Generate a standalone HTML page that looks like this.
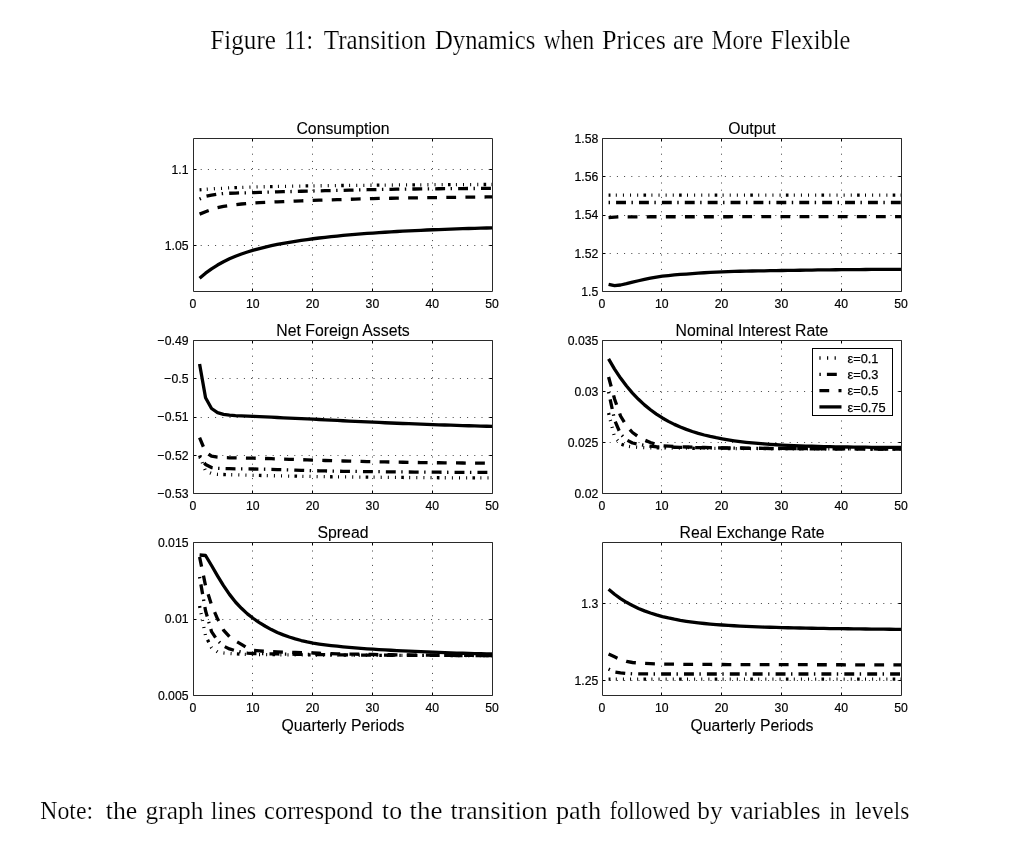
<!DOCTYPE html>
<html><head><meta charset="utf-8"><style>html,body{margin:0;padding:0;background:#fff;width:1021px;height:849px;overflow:hidden}svg{display:block;will-change:transform}</style></head><body>
<svg width="1021" height="849" viewBox="0 0 1021 849">
<rect width="1021" height="849" fill="#fff"/>
<g font-family="Liberation Serif, serif" fill="#000" stroke="#fff" stroke-width="0.2" font-size="26.3"><text x="210.30" y="48.8" textLength="65.67" lengthAdjust="spacingAndGlyphs">Figure</text><text x="284.00" y="48.8" textLength="29.03" lengthAdjust="spacingAndGlyphs">11:</text><text x="323.80" y="48.8" textLength="102.38" lengthAdjust="spacingAndGlyphs">Transition</text><text x="435.00" y="48.8" textLength="100.34" lengthAdjust="spacingAndGlyphs">Dynamics</text><text x="543.70" y="48.8" textLength="50.57" lengthAdjust="spacingAndGlyphs">when</text><text x="601.90" y="48.8" textLength="63.97" lengthAdjust="spacingAndGlyphs">Prices</text><text x="673.00" y="48.8" textLength="30.80" lengthAdjust="spacingAndGlyphs">are</text><text x="711.40" y="48.8" textLength="51.37" lengthAdjust="spacingAndGlyphs">More</text><text x="770.40" y="48.8" textLength="79.99" lengthAdjust="spacingAndGlyphs">Flexible</text></g><g font-family="Liberation Serif, serif" fill="#000" stroke="#fff" stroke-width="0.2" font-size="25.5"><text x="40.30" y="819.4" textLength="52.86" lengthAdjust="spacingAndGlyphs">Note:</text><text x="105.80" y="819.4" textLength="31.45" lengthAdjust="spacingAndGlyphs">the</text><text x="145.50" y="819.4" textLength="57.86" lengthAdjust="spacingAndGlyphs">graph</text><text x="210.70" y="819.4" textLength="45.56" lengthAdjust="spacingAndGlyphs">lines</text><text x="264.00" y="819.4" textLength="109.00" lengthAdjust="spacingAndGlyphs">correspond</text><text x="382.00" y="819.4" textLength="20.03" lengthAdjust="spacingAndGlyphs">to</text><text x="409.50" y="819.4" textLength="32.95" lengthAdjust="spacingAndGlyphs">the</text><text x="450.50" y="819.4" textLength="97.02" lengthAdjust="spacingAndGlyphs">transition</text><text x="555.90" y="819.4" textLength="45.30" lengthAdjust="spacingAndGlyphs">path</text><text x="609.50" y="819.4" textLength="80.54" lengthAdjust="spacingAndGlyphs">followed</text><text x="697.20" y="819.4" textLength="25.40" lengthAdjust="spacingAndGlyphs">by</text><text x="729.90" y="819.4" textLength="90.64" lengthAdjust="spacingAndGlyphs">variables</text><text x="829.50" y="819.4" textLength="16.33" lengthAdjust="spacingAndGlyphs">in</text><text x="854.90" y="819.4" textLength="54.38" lengthAdjust="spacingAndGlyphs">levels</text></g>
<g font-family="Liberation Sans, sans-serif" font-size="13.6" fill="#000" stroke-linejoin="round"><line x1="252.50" y1="291.5" x2="252.50" y2="138.5" stroke="#000" stroke-width="1" stroke-dasharray="1 6.2" opacity="0.75"/><line x1="312.50" y1="291.5" x2="312.50" y2="138.5" stroke="#000" stroke-width="1" stroke-dasharray="1 6.2" opacity="0.75"/><line x1="372.50" y1="291.5" x2="372.50" y2="138.5" stroke="#000" stroke-width="1" stroke-dasharray="1 6.2" opacity="0.75"/><line x1="432.50" y1="291.5" x2="432.50" y2="138.5" stroke="#000" stroke-width="1" stroke-dasharray="1 6.2" opacity="0.75"/><line x1="193.5" y1="245.50" x2="492.5" y2="245.50" stroke="#000" stroke-width="1" stroke-dasharray="1 6.2" opacity="0.75"/><line x1="193.5" y1="169.50" x2="492.5" y2="169.50" stroke="#000" stroke-width="1" stroke-dasharray="1 6.2" opacity="0.75"/><path d="M252.50 291.5v-3M252.50 138.5v3" stroke="#000" stroke-width="1"/><path d="M312.50 291.5v-3M312.50 138.5v3" stroke="#000" stroke-width="1"/><path d="M372.50 291.5v-3M372.50 138.5v3" stroke="#000" stroke-width="1"/><path d="M432.50 291.5v-3M432.50 138.5v3" stroke="#000" stroke-width="1"/><path d="M193.5 245.50h3M492.5 245.50h-3" stroke="#000" stroke-width="1"/><path d="M193.5 169.50h3M492.5 169.50h-3" stroke="#000" stroke-width="1"/><path d="M199.58 278.22 L205.56 273.16 L211.54 268.80 L217.52 265.02 L223.50 261.72 L229.48 258.83 L235.46 256.28 L241.44 254.01 L247.42 251.99 L253.40 250.18 L259.38 248.54 L265.36 247.05 L271.34 245.70 L277.32 244.46 L283.30 243.32 L289.28 242.26 L295.26 241.29 L301.24 240.38 L307.22 239.53 L313.20 238.75 L319.18 238.01 L325.16 237.31 L331.14 236.66 L337.12 236.05 L343.10 235.47 L349.08 234.93 L355.06 234.42 L361.04 233.93 L367.02 233.47 L373.00 233.04 L378.98 232.63 L384.96 232.24 L390.94 231.87 L396.92 231.52 L402.90 231.19 L408.88 230.87 L414.86 230.58 L420.84 230.29 L426.82 230.02 L432.80 229.77 L438.78 229.53 L444.76 229.30 L450.74 229.08 L456.72 228.87 L462.70 228.68 L468.68 228.49 L474.66 228.31 L480.64 228.15 L486.62 227.99 L492.60 227.83" fill="none" stroke="#000" stroke-width="3.3" stroke-linejoin="round" /><path d="M199.58 214.10 L205.56 211.69 L211.54 209.52 L217.52 207.71 L223.50 206.40 L229.48 205.46 L235.46 204.66 L241.44 203.99 L247.42 203.44 L253.40 203.00 L259.38 202.64 L265.36 202.35 L271.34 202.09 L277.32 201.85 L283.30 201.60 L289.28 201.34 L295.26 201.09 L301.24 200.85 L307.22 200.62 L313.20 200.40 L319.18 200.20 L325.16 200.02 L331.14 199.85 L337.12 199.68 L343.10 199.50 L349.08 199.31 L355.06 199.12 L361.04 198.93 L367.02 198.75 L373.00 198.60 L378.98 198.47 L384.96 198.35 L390.94 198.24 L396.92 198.14 L402.90 198.04 L408.88 197.94 L414.86 197.85 L420.84 197.77 L426.82 197.68 L432.80 197.60 L438.78 197.52 L444.76 197.44 L450.74 197.36 L456.72 197.29 L462.70 197.22 L468.68 197.15 L474.66 197.08 L480.64 197.02 L486.62 196.96 L492.60 196.90" fill="none" stroke="#000" stroke-width="3.3" stroke-linejoin="round" stroke-dasharray="9.8 9.3"/><path d="M199.58 199.00 L205.56 196.40 L211.54 195.04 L217.52 194.06 L223.50 193.50 L229.48 193.23 L235.46 193.04 L241.44 192.89 L247.42 192.76 L253.40 192.60 L259.38 192.42 L265.36 192.23 L271.34 192.04 L277.32 191.87 L283.30 191.70 L289.28 191.55 L295.26 191.41 L301.24 191.27 L307.22 191.14 L313.20 191.00 L319.18 190.86 L325.16 190.72 L331.14 190.58 L337.12 190.44 L343.10 190.30 L349.08 190.15 L355.06 190.00 L361.04 189.85 L367.02 189.72 L373.00 189.60 L378.98 189.50 L384.96 189.40 L390.94 189.31 L396.92 189.22 L402.90 189.14 L408.88 189.06 L414.86 188.99 L420.84 188.92 L426.82 188.86 L432.80 188.80 L438.78 188.75 L444.76 188.70 L450.74 188.65 L456.72 188.60 L462.70 188.56 L468.68 188.52 L474.66 188.48 L480.64 188.45 L486.62 188.42 L492.60 188.40" fill="none" stroke="#000" stroke-width="3.3" stroke-linejoin="round" stroke-dasharray="1.4 6.1 9.9 5.5"/><path d="M199.58 189.80 L205.56 189.34 L211.54 188.92 L217.52 188.53 L223.50 188.20 L229.48 187.91 L235.46 187.63 L241.44 187.39 L247.42 187.17 L253.40 187.00 L259.38 186.85 L265.36 186.71 L271.34 186.58 L277.32 186.46 L283.30 186.34 L289.28 186.23 L295.26 186.13 L301.24 186.03 L307.22 185.94 L313.20 185.85 L319.18 185.77 L325.16 185.70 L331.14 185.63 L337.12 185.56 L343.10 185.50 L349.08 185.44 L355.06 185.38 L361.04 185.32 L367.02 185.27 L373.00 185.21 L378.98 185.15 L384.96 185.10 L390.94 185.04 L396.92 184.99 L402.90 184.94 L408.88 184.89 L414.86 184.85 L420.84 184.80 L426.82 184.76 L432.80 184.72 L438.78 184.68 L444.76 184.65 L450.74 184.62 L456.72 184.59 L462.70 184.56 L468.68 184.54 L474.66 184.53 L480.64 184.51 L486.62 184.50 L492.60 184.50" fill="none" stroke="#000" stroke-width="3.3" stroke-linejoin="round" stroke-dasharray="2.6 5.32 1 6.12 1 6.12 1 6.12 1 5.32" stroke-dashoffset="0.7"/><rect x="193.5" y="138.5" width="299.0" height="153.0" fill="none" stroke="#2a2a2a" stroke-width="1"/><text transform="translate(193.00,307.70) scale(0.9,1)" text-anchor="middle" stroke="#000" stroke-width="0.2">0</text><text transform="translate(252.80,307.70) scale(0.9,1)" text-anchor="middle" stroke="#000" stroke-width="0.2">10</text><text transform="translate(312.60,307.70) scale(0.9,1)" text-anchor="middle" stroke="#000" stroke-width="0.2">20</text><text transform="translate(372.40,307.70) scale(0.9,1)" text-anchor="middle" stroke="#000" stroke-width="0.2">30</text><text transform="translate(432.20,307.70) scale(0.9,1)" text-anchor="middle" stroke="#000" stroke-width="0.2">40</text><text transform="translate(492.00,307.70) scale(0.9,1)" text-anchor="middle" stroke="#000" stroke-width="0.2">50</text><text transform="translate(188.50,250.00) scale(0.9,1)" text-anchor="end" stroke="#000" stroke-width="0.2">1.05</text><text transform="translate(188.50,173.50) scale(0.9,1)" text-anchor="end" stroke="#000" stroke-width="0.2">1.1</text><text x="343.00" y="133.50" text-anchor="middle" font-size="15.8" stroke="#000" stroke-width="0.1">Consumption</text></g>
<g font-family="Liberation Sans, sans-serif" font-size="13.6" fill="#000" stroke-linejoin="round"><line x1="661.50" y1="291.5" x2="661.50" y2="138.5" stroke="#000" stroke-width="1" stroke-dasharray="1 6.2" opacity="0.75"/><line x1="721.50" y1="291.5" x2="721.50" y2="138.5" stroke="#000" stroke-width="1" stroke-dasharray="1 6.2" opacity="0.75"/><line x1="781.50" y1="291.5" x2="781.50" y2="138.5" stroke="#000" stroke-width="1" stroke-dasharray="1 6.2" opacity="0.75"/><line x1="841.50" y1="291.5" x2="841.50" y2="138.5" stroke="#000" stroke-width="1" stroke-dasharray="1 6.2" opacity="0.75"/><line x1="602.5" y1="253.50" x2="901.5" y2="253.50" stroke="#000" stroke-width="1" stroke-dasharray="1 6.2" opacity="0.75"/><line x1="602.5" y1="215.50" x2="901.5" y2="215.50" stroke="#000" stroke-width="1" stroke-dasharray="1 6.2" opacity="0.75"/><line x1="602.5" y1="176.50" x2="901.5" y2="176.50" stroke="#000" stroke-width="1" stroke-dasharray="1 6.2" opacity="0.75"/><path d="M661.50 291.5v-3M661.50 138.5v3" stroke="#000" stroke-width="1"/><path d="M721.50 291.5v-3M721.50 138.5v3" stroke="#000" stroke-width="1"/><path d="M781.50 291.5v-3M781.50 138.5v3" stroke="#000" stroke-width="1"/><path d="M841.50 291.5v-3M841.50 138.5v3" stroke="#000" stroke-width="1"/><path d="M602.5 291.50h3M901.5 291.50h-3" stroke="#000" stroke-width="1"/><path d="M602.5 253.50h3M901.5 253.50h-3" stroke="#000" stroke-width="1"/><path d="M602.5 215.50h3M901.5 215.50h-3" stroke="#000" stroke-width="1"/><path d="M602.5 176.50h3M901.5 176.50h-3" stroke="#000" stroke-width="1"/><path d="M602.5 138.50h3M901.5 138.50h-3" stroke="#000" stroke-width="1"/><path d="M608.58 284.30 L614.56 285.60 L620.54 285.00 L626.52 283.68 L632.50 282.10 L638.48 280.76 L644.46 279.42 L650.44 278.16 L656.42 277.06 L662.40 276.20 L668.38 275.54 L674.36 274.97 L680.34 274.48 L686.32 274.03 L692.30 273.60 L698.28 273.18 L704.26 272.77 L710.24 272.39 L716.22 272.06 L722.20 271.80 L728.18 271.59 L734.16 271.42 L740.14 271.26 L746.12 271.13 L752.10 271.00 L758.08 270.88 L764.06 270.78 L770.04 270.68 L776.02 270.59 L782.00 270.50 L787.98 270.41 L793.96 270.32 L799.94 270.23 L805.92 270.14 L811.90 270.05 L817.88 269.97 L823.86 269.89 L829.84 269.82 L835.82 269.76 L841.80 269.70 L847.78 269.65 L853.76 269.60 L859.74 269.55 L865.72 269.50 L871.70 269.46 L877.68 269.42 L883.66 269.38 L889.64 269.35 L895.62 269.32 L901.60 269.30" fill="none" stroke="#000" stroke-width="3.3" stroke-linejoin="round" /><path d="M608.58 217.60 L614.56 217.10 L620.54 216.80 L626.52 216.79 L632.50 216.79 L638.48 216.78 L644.46 216.78 L650.44 216.77 L656.42 216.77 L662.40 216.76 L668.38 216.76 L674.36 216.75 L680.34 216.75 L686.32 216.75 L692.30 216.74 L698.28 216.74 L704.26 216.74 L710.24 216.73 L716.22 216.73 L722.20 216.73 L728.18 216.73 L734.16 216.72 L740.14 216.72 L746.12 216.72 L752.10 216.72 L758.08 216.72 L764.06 216.71 L770.04 216.71 L776.02 216.71 L782.00 216.71 L787.98 216.71 L793.96 216.71 L799.94 216.71 L805.92 216.71 L811.90 216.70 L817.88 216.70 L823.86 216.70 L829.84 216.70 L835.82 216.70 L841.80 216.70 L847.78 216.70 L853.76 216.70 L859.74 216.70 L865.72 216.70 L871.70 216.70 L877.68 216.70 L883.66 216.70 L889.64 216.70 L895.62 216.70 L901.60 216.70" fill="none" stroke="#000" stroke-width="3.3" stroke-linejoin="round" stroke-dasharray="9.8 9.3"/><path d="M608.58 202.50 L614.56 202.50 L620.54 202.50 L626.52 202.50 L632.50 202.50 L638.48 202.50 L644.46 202.50 L650.44 202.50 L656.42 202.50 L662.40 202.50 L668.38 202.50 L674.36 202.50 L680.34 202.50 L686.32 202.50 L692.30 202.50 L698.28 202.50 L704.26 202.50 L710.24 202.50 L716.22 202.50 L722.20 202.50 L728.18 202.50 L734.16 202.50 L740.14 202.50 L746.12 202.50 L752.10 202.50 L758.08 202.50 L764.06 202.50 L770.04 202.50 L776.02 202.50 L782.00 202.50 L787.98 202.50 L793.96 202.50 L799.94 202.50 L805.92 202.50 L811.90 202.50 L817.88 202.50 L823.86 202.50 L829.84 202.50 L835.82 202.50 L841.80 202.50 L847.78 202.50 L853.76 202.50 L859.74 202.50 L865.72 202.50 L871.70 202.50 L877.68 202.50 L883.66 202.50 L889.64 202.50 L895.62 202.50 L901.60 202.50" fill="none" stroke="#000" stroke-width="3.3" stroke-linejoin="round" stroke-dasharray="1.4 6.1 9.9 5.5"/><path d="M608.58 195.10 L614.56 195.10 L620.54 195.10 L626.52 195.10 L632.50 195.10 L638.48 195.10 L644.46 195.10 L650.44 195.10 L656.42 195.10 L662.40 195.10 L668.38 195.10 L674.36 195.10 L680.34 195.10 L686.32 195.10 L692.30 195.10 L698.28 195.10 L704.26 195.10 L710.24 195.10 L716.22 195.10 L722.20 195.10 L728.18 195.10 L734.16 195.10 L740.14 195.10 L746.12 195.10 L752.10 195.10 L758.08 195.10 L764.06 195.10 L770.04 195.10 L776.02 195.10 L782.00 195.10 L787.98 195.10 L793.96 195.10 L799.94 195.10 L805.92 195.10 L811.90 195.10 L817.88 195.10 L823.86 195.10 L829.84 195.10 L835.82 195.10 L841.80 195.10 L847.78 195.10 L853.76 195.10 L859.74 195.10 L865.72 195.10 L871.70 195.10 L877.68 195.10 L883.66 195.10 L889.64 195.10 L895.62 195.10 L901.60 195.10" fill="none" stroke="#000" stroke-width="3.3" stroke-linejoin="round" stroke-dasharray="2.6 5.32 1 6.12 1 6.12 1 6.12 1 5.32" stroke-dashoffset="0.7"/><rect x="602.5" y="138.5" width="299.0" height="153.0" fill="none" stroke="#2a2a2a" stroke-width="1"/><text transform="translate(602.00,307.70) scale(0.9,1)" text-anchor="middle" stroke="#000" stroke-width="0.2">0</text><text transform="translate(661.80,307.70) scale(0.9,1)" text-anchor="middle" stroke="#000" stroke-width="0.2">10</text><text transform="translate(721.60,307.70) scale(0.9,1)" text-anchor="middle" stroke="#000" stroke-width="0.2">20</text><text transform="translate(781.40,307.70) scale(0.9,1)" text-anchor="middle" stroke="#000" stroke-width="0.2">30</text><text transform="translate(841.20,307.70) scale(0.9,1)" text-anchor="middle" stroke="#000" stroke-width="0.2">40</text><text transform="translate(901.00,307.70) scale(0.9,1)" text-anchor="middle" stroke="#000" stroke-width="0.2">50</text><text transform="translate(598.30,295.90) scale(0.9,1)" text-anchor="end" stroke="#000" stroke-width="0.2">1.5</text><text transform="translate(598.30,257.65) scale(0.9,1)" text-anchor="end" stroke="#000" stroke-width="0.2">1.52</text><text transform="translate(598.30,219.40) scale(0.9,1)" text-anchor="end" stroke="#000" stroke-width="0.2">1.54</text><text transform="translate(598.30,181.15) scale(0.9,1)" text-anchor="end" stroke="#000" stroke-width="0.2">1.56</text><text transform="translate(598.30,142.90) scale(0.9,1)" text-anchor="end" stroke="#000" stroke-width="0.2">1.58</text><text x="752.00" y="133.50" text-anchor="middle" font-size="15.8" stroke="#000" stroke-width="0.1">Output</text></g>
<g font-family="Liberation Sans, sans-serif" font-size="13.6" fill="#000" stroke-linejoin="round"><line x1="252.50" y1="493.5" x2="252.50" y2="340.5" stroke="#000" stroke-width="1" stroke-dasharray="1 6.2" opacity="0.75"/><line x1="312.50" y1="493.5" x2="312.50" y2="340.5" stroke="#000" stroke-width="1" stroke-dasharray="1 6.2" opacity="0.75"/><line x1="372.50" y1="493.5" x2="372.50" y2="340.5" stroke="#000" stroke-width="1" stroke-dasharray="1 6.2" opacity="0.75"/><line x1="432.50" y1="493.5" x2="432.50" y2="340.5" stroke="#000" stroke-width="1" stroke-dasharray="1 6.2" opacity="0.75"/><line x1="193.5" y1="455.50" x2="492.5" y2="455.50" stroke="#000" stroke-width="1" stroke-dasharray="1 6.2" opacity="0.75"/><line x1="193.5" y1="417.50" x2="492.5" y2="417.50" stroke="#000" stroke-width="1" stroke-dasharray="1 6.2" opacity="0.75"/><line x1="193.5" y1="378.50" x2="492.5" y2="378.50" stroke="#000" stroke-width="1" stroke-dasharray="1 6.2" opacity="0.75"/><path d="M252.50 493.5v-3M252.50 340.5v3" stroke="#000" stroke-width="1"/><path d="M312.50 493.5v-3M312.50 340.5v3" stroke="#000" stroke-width="1"/><path d="M372.50 493.5v-3M372.50 340.5v3" stroke="#000" stroke-width="1"/><path d="M432.50 493.5v-3M432.50 340.5v3" stroke="#000" stroke-width="1"/><path d="M193.5 493.50h3M492.5 493.50h-3" stroke="#000" stroke-width="1"/><path d="M193.5 455.50h3M492.5 455.50h-3" stroke="#000" stroke-width="1"/><path d="M193.5 417.50h3M492.5 417.50h-3" stroke="#000" stroke-width="1"/><path d="M193.5 378.50h3M492.5 378.50h-3" stroke="#000" stroke-width="1"/><path d="M193.5 340.50h3M492.5 340.50h-3" stroke="#000" stroke-width="1"/><path d="M199.58 364.00 L205.56 397.80 L211.54 408.50 L217.52 412.60 L223.50 414.30 L229.48 415.10 L235.46 415.60 L241.44 415.92 L247.42 416.16 L253.40 416.40 L259.38 416.67 L265.36 416.95 L271.34 417.22 L277.32 417.50 L283.30 417.78 L289.28 418.06 L295.26 418.34 L301.24 418.63 L307.22 418.91 L313.20 419.20 L319.18 419.49 L325.16 419.80 L331.14 420.11 L337.12 420.42 L343.10 420.73 L349.08 421.04 L355.06 421.34 L361.04 421.64 L367.02 421.93 L373.00 422.20 L378.98 422.46 L384.96 422.73 L390.94 422.98 L396.92 423.23 L402.90 423.48 L408.88 423.71 L414.86 423.95 L420.84 424.17 L426.82 424.39 L432.80 424.60 L438.78 424.80 L444.76 425.00 L450.74 425.20 L456.72 425.39 L462.70 425.57 L468.68 425.75 L474.66 425.92 L480.64 426.09 L486.62 426.25 L492.60 426.40" fill="none" stroke="#000" stroke-width="3.3" stroke-linejoin="round" /><path d="M199.58 437.70 L205.56 452.00 L211.54 456.20 L217.52 457.10 L223.50 457.60 L229.48 457.78 L235.46 457.90 L241.44 457.99 L247.42 458.08 L253.40 458.20 L259.38 458.35 L265.36 458.52 L271.34 458.69 L277.32 458.88 L283.30 459.08 L289.28 459.29 L295.26 459.50 L301.24 459.70 L307.22 459.91 L313.20 460.12 L319.18 460.32 L325.16 460.51 L331.14 460.68 L337.12 460.85 L343.10 461.00 L349.08 461.14 L355.06 461.28 L361.04 461.42 L367.02 461.55 L373.00 461.68 L378.98 461.81 L384.96 461.93 L390.94 462.05 L396.92 462.16 L402.90 462.27 L408.88 462.37 L414.86 462.46 L420.84 462.55 L426.82 462.63 L432.80 462.70 L438.78 462.77 L444.76 462.83 L450.74 462.89 L456.72 462.95 L462.70 463.00 L468.68 463.05 L474.66 463.10 L480.64 463.14 L486.62 463.17 L492.60 463.20" fill="none" stroke="#000" stroke-width="3.3" stroke-linejoin="round" stroke-dasharray="9.8 9.3"/><path d="M199.58 457.00 L205.56 464.50 L211.54 467.50 L217.52 468.30 L223.50 468.60 L229.48 468.72 L235.46 468.80 L241.44 468.86 L247.42 468.92 L253.40 469.00 L259.38 469.11 L265.36 469.25 L271.34 469.40 L277.32 469.56 L283.30 469.74 L289.28 469.92 L295.26 470.11 L301.24 470.30 L307.22 470.48 L313.20 470.66 L319.18 470.82 L325.16 470.97 L331.14 471.10 L337.12 471.21 L343.10 471.30 L349.08 471.37 L355.06 471.44 L361.04 471.51 L367.02 471.58 L373.00 471.64 L378.98 471.71 L384.96 471.77 L390.94 471.83 L396.92 471.89 L402.90 471.95 L408.88 472.00 L414.86 472.05 L420.84 472.10 L426.82 472.14 L432.80 472.18 L438.78 472.22 L444.76 472.26 L450.74 472.29 L456.72 472.32 L462.70 472.34 L468.68 472.36 L474.66 472.38 L480.64 472.39 L486.62 472.40 L492.60 472.40" fill="none" stroke="#000" stroke-width="3.3" stroke-linejoin="round" stroke-dasharray="1.4 6.1 9.9 5.5"/><path d="M199.58 455.50 L205.56 471.00 L211.54 473.50 L217.52 474.30 L223.50 474.50 L229.48 474.68 L235.46 474.85 L241.44 475.01 L247.42 475.16 L253.40 475.30 L259.38 475.43 L265.36 475.56 L271.34 475.69 L277.32 475.82 L283.30 475.94 L289.28 476.06 L295.26 476.18 L301.24 476.29 L307.22 476.40 L313.20 476.50 L319.18 476.59 L325.16 476.68 L331.14 476.76 L337.12 476.84 L343.10 476.90 L349.08 476.96 L355.06 477.02 L361.04 477.08 L367.02 477.14 L373.00 477.20 L378.98 477.25 L384.96 477.31 L390.94 477.37 L396.92 477.42 L402.90 477.47 L408.88 477.52 L414.86 477.57 L420.84 477.61 L426.82 477.65 L432.80 477.69 L438.78 477.73 L444.76 477.76 L450.74 477.79 L456.72 477.82 L462.70 477.84 L468.68 477.86 L474.66 477.88 L480.64 477.89 L486.62 477.90 L492.60 477.90" fill="none" stroke="#000" stroke-width="3.3" stroke-linejoin="round" stroke-dasharray="2.6 5.32 1 6.12 1 6.12 1 6.12 1 5.32" stroke-dashoffset="0.7"/><rect x="193.5" y="340.5" width="299.0" height="153.0" fill="none" stroke="#2a2a2a" stroke-width="1"/><text transform="translate(193.00,509.70) scale(0.9,1)" text-anchor="middle" stroke="#000" stroke-width="0.2">0</text><text transform="translate(252.80,509.70) scale(0.9,1)" text-anchor="middle" stroke="#000" stroke-width="0.2">10</text><text transform="translate(312.60,509.70) scale(0.9,1)" text-anchor="middle" stroke="#000" stroke-width="0.2">20</text><text transform="translate(372.40,509.70) scale(0.9,1)" text-anchor="middle" stroke="#000" stroke-width="0.2">30</text><text transform="translate(432.20,509.70) scale(0.9,1)" text-anchor="middle" stroke="#000" stroke-width="0.2">40</text><text transform="translate(492.00,509.70) scale(0.9,1)" text-anchor="middle" stroke="#000" stroke-width="0.2">50</text><text transform="translate(188.50,497.90) scale(0.9,1)" text-anchor="end" stroke="#000" stroke-width="0.2">−0.53</text><text transform="translate(188.50,459.65) scale(0.9,1)" text-anchor="end" stroke="#000" stroke-width="0.2">−0.52</text><text transform="translate(188.50,421.40) scale(0.9,1)" text-anchor="end" stroke="#000" stroke-width="0.2">−0.51</text><text transform="translate(188.50,383.15) scale(0.9,1)" text-anchor="end" stroke="#000" stroke-width="0.2">−0.5</text><text transform="translate(188.50,344.90) scale(0.9,1)" text-anchor="end" stroke="#000" stroke-width="0.2">−0.49</text><text x="343.00" y="335.50" text-anchor="middle" font-size="15.8" stroke="#000" stroke-width="0.1">Net Foreign Assets</text></g>
<g font-family="Liberation Sans, sans-serif" font-size="13.6" fill="#000" stroke-linejoin="round"><line x1="661.50" y1="493.5" x2="661.50" y2="340.5" stroke="#000" stroke-width="1" stroke-dasharray="1 6.2" opacity="0.75"/><line x1="721.50" y1="493.5" x2="721.50" y2="340.5" stroke="#000" stroke-width="1" stroke-dasharray="1 6.2" opacity="0.75"/><line x1="781.50" y1="493.5" x2="781.50" y2="340.5" stroke="#000" stroke-width="1" stroke-dasharray="1 6.2" opacity="0.75"/><line x1="841.50" y1="493.5" x2="841.50" y2="340.5" stroke="#000" stroke-width="1" stroke-dasharray="1 6.2" opacity="0.75"/><line x1="602.5" y1="442.50" x2="901.5" y2="442.50" stroke="#000" stroke-width="1" stroke-dasharray="1 6.2" opacity="0.75"/><line x1="602.5" y1="391.50" x2="901.5" y2="391.50" stroke="#000" stroke-width="1" stroke-dasharray="1 6.2" opacity="0.75"/><path d="M661.50 493.5v-3M661.50 340.5v3" stroke="#000" stroke-width="1"/><path d="M721.50 493.5v-3M721.50 340.5v3" stroke="#000" stroke-width="1"/><path d="M781.50 493.5v-3M781.50 340.5v3" stroke="#000" stroke-width="1"/><path d="M841.50 493.5v-3M841.50 340.5v3" stroke="#000" stroke-width="1"/><path d="M602.5 493.50h3M901.5 493.50h-3" stroke="#000" stroke-width="1"/><path d="M602.5 442.50h3M901.5 442.50h-3" stroke="#000" stroke-width="1"/><path d="M602.5 391.50h3M901.5 391.50h-3" stroke="#000" stroke-width="1"/><path d="M602.5 340.50h3M901.5 340.50h-3" stroke="#000" stroke-width="1"/><path d="M608.58 358.90 L614.56 369.06 L620.54 378.06 L626.52 386.03 L632.50 393.08 L638.48 399.33 L644.46 404.87 L650.44 409.77 L656.42 414.11 L662.40 417.95 L668.38 421.35 L674.36 424.37 L680.34 427.04 L686.32 429.40 L692.30 431.50 L698.28 433.35 L704.26 434.99 L710.24 436.45 L716.22 437.73 L722.20 438.87 L728.18 439.88 L734.16 440.78 L740.14 441.57 L746.12 442.27 L752.10 442.89 L758.08 443.44 L764.06 443.93 L770.04 444.36 L776.02 444.74 L782.00 445.08 L787.98 445.38 L793.96 445.65 L799.94 445.88 L805.92 446.09 L811.90 446.27 L817.88 446.44 L823.86 446.58 L829.84 446.71 L835.82 446.82 L841.80 446.92 L847.78 447.01 L853.76 447.09 L859.74 447.16 L865.72 447.22 L871.70 447.28 L877.68 447.33 L883.66 447.37 L889.64 447.41 L895.62 447.44 L901.60 447.47" fill="none" stroke="#000" stroke-width="3.3" stroke-linejoin="round" /><path d="M608.58 377.00 L614.56 399.00 L620.54 416.00 L626.52 425.85 L632.50 432.50 L638.48 436.89 L644.46 440.00 L650.44 442.53 L656.42 444.60 L662.40 445.70 L668.38 446.11 L674.36 446.46 L680.34 446.76 L686.32 447.00 L692.30 447.21 L698.28 447.38 L704.26 447.51 L710.24 447.63 L716.22 447.72 L722.20 447.80 L728.18 447.87 L734.16 447.95 L740.14 448.02 L746.12 448.09 L752.10 448.15 L758.08 448.22 L764.06 448.28 L770.04 448.34 L776.02 448.39 L782.00 448.45 L787.98 448.50 L793.96 448.55 L799.94 448.60 L805.92 448.64 L811.90 448.68 L817.88 448.72 L823.86 448.76 L829.84 448.80 L835.82 448.83 L841.80 448.86 L847.78 448.88 L853.76 448.91 L859.74 448.93 L865.72 448.95 L871.70 448.96 L877.68 448.98 L883.66 448.99 L889.64 448.99 L895.62 449.00 L901.60 449.00" fill="none" stroke="#000" stroke-width="3.3" stroke-linejoin="round" stroke-dasharray="9.8 9.3"/><path d="M608.58 392.00 L614.56 420.00 L620.54 434.00 L626.52 439.93 L632.50 443.00 L638.48 444.36 L644.46 445.44 L650.44 446.23 L656.42 446.75 L662.40 447.00 L668.38 447.12 L674.36 447.23 L680.34 447.35 L686.32 447.45 L692.30 447.55 L698.28 447.65 L704.26 447.74 L710.24 447.83 L716.22 447.92 L722.20 448.00 L728.18 448.08 L734.16 448.15 L740.14 448.22 L746.12 448.29 L752.10 448.35 L758.08 448.41 L764.06 448.46 L770.04 448.51 L776.02 448.56 L782.00 448.61 L787.98 448.65 L793.96 448.69 L799.94 448.73 L805.92 448.76 L811.90 448.80 L817.88 448.83 L823.86 448.85 L829.84 448.88 L835.82 448.90 L841.80 448.92 L847.78 448.93 L853.76 448.95 L859.74 448.96 L865.72 448.97 L871.70 448.98 L877.68 448.99 L883.66 448.99 L889.64 449.00 L895.62 449.00 L901.60 449.00" fill="none" stroke="#000" stroke-width="3.3" stroke-linejoin="round" stroke-dasharray="1.4 6.1 9.9 5.5"/><path d="M608.58 413.00 L614.56 437.00 L620.54 444.00 L626.52 446.07 L632.50 447.00 L638.48 447.35 L644.46 447.61 L650.44 447.80 L656.42 447.92 L662.40 448.00 L668.38 448.05 L674.36 448.11 L680.34 448.16 L686.32 448.21 L692.30 448.26 L698.28 448.30 L704.26 448.35 L710.24 448.39 L716.22 448.43 L722.20 448.47 L728.18 448.51 L734.16 448.54 L740.14 448.58 L746.12 448.61 L752.10 448.64 L758.08 448.67 L764.06 448.70 L770.04 448.73 L776.02 448.75 L782.00 448.78 L787.98 448.80 L793.96 448.82 L799.94 448.84 L805.92 448.86 L811.90 448.88 L817.88 448.90 L823.86 448.91 L829.84 448.92 L835.82 448.94 L841.80 448.95 L847.78 448.96 L853.76 448.97 L859.74 448.98 L865.72 448.98 L871.70 448.99 L877.68 448.99 L883.66 449.00 L889.64 449.00 L895.62 449.00 L901.60 449.00" fill="none" stroke="#000" stroke-width="3.3" stroke-linejoin="round" stroke-dasharray="2.6 5.32 1 6.12 1 6.12 1 6.12 1 5.32" stroke-dashoffset="0.7"/><rect x="602.5" y="340.5" width="299.0" height="153.0" fill="none" stroke="#2a2a2a" stroke-width="1"/><text transform="translate(602.00,509.70) scale(0.9,1)" text-anchor="middle" stroke="#000" stroke-width="0.2">0</text><text transform="translate(661.80,509.70) scale(0.9,1)" text-anchor="middle" stroke="#000" stroke-width="0.2">10</text><text transform="translate(721.60,509.70) scale(0.9,1)" text-anchor="middle" stroke="#000" stroke-width="0.2">20</text><text transform="translate(781.40,509.70) scale(0.9,1)" text-anchor="middle" stroke="#000" stroke-width="0.2">30</text><text transform="translate(841.20,509.70) scale(0.9,1)" text-anchor="middle" stroke="#000" stroke-width="0.2">40</text><text transform="translate(901.00,509.70) scale(0.9,1)" text-anchor="middle" stroke="#000" stroke-width="0.2">50</text><text transform="translate(598.30,497.90) scale(0.9,1)" text-anchor="end" stroke="#000" stroke-width="0.2">0.02</text><text transform="translate(598.30,446.90) scale(0.9,1)" text-anchor="end" stroke="#000" stroke-width="0.2">0.025</text><text transform="translate(598.30,395.90) scale(0.9,1)" text-anchor="end" stroke="#000" stroke-width="0.2">0.03</text><text transform="translate(598.30,344.90) scale(0.9,1)" text-anchor="end" stroke="#000" stroke-width="0.2">0.035</text><text x="752.00" y="335.50" text-anchor="middle" font-size="15.8" stroke="#000" stroke-width="0.1">Nominal Interest Rate</text></g>
<g font-family="Liberation Sans, sans-serif" font-size="13.6" fill="#000" stroke-linejoin="round"><line x1="252.50" y1="695.5" x2="252.50" y2="542.5" stroke="#000" stroke-width="1" stroke-dasharray="1 6.2" opacity="0.75"/><line x1="312.50" y1="695.5" x2="312.50" y2="542.5" stroke="#000" stroke-width="1" stroke-dasharray="1 6.2" opacity="0.75"/><line x1="372.50" y1="695.5" x2="372.50" y2="542.5" stroke="#000" stroke-width="1" stroke-dasharray="1 6.2" opacity="0.75"/><line x1="432.50" y1="695.5" x2="432.50" y2="542.5" stroke="#000" stroke-width="1" stroke-dasharray="1 6.2" opacity="0.75"/><line x1="193.5" y1="619.50" x2="492.5" y2="619.50" stroke="#000" stroke-width="1" stroke-dasharray="1 6.2" opacity="0.75"/><path d="M252.50 695.5v-3M252.50 542.5v3" stroke="#000" stroke-width="1"/><path d="M312.50 695.5v-3M312.50 542.5v3" stroke="#000" stroke-width="1"/><path d="M372.50 695.5v-3M372.50 542.5v3" stroke="#000" stroke-width="1"/><path d="M432.50 695.5v-3M432.50 542.5v3" stroke="#000" stroke-width="1"/><path d="M193.5 695.50h3M492.5 695.50h-3" stroke="#000" stroke-width="1"/><path d="M193.5 619.50h3M492.5 619.50h-3" stroke="#000" stroke-width="1"/><path d="M193.5 542.50h3M492.5 542.50h-3" stroke="#000" stroke-width="1"/><path d="M199.58 555.00 L205.56 555.50 L211.54 565.50 L217.52 575.80 L223.50 585.60 L229.48 594.39 L235.46 602.00 L241.44 608.31 L247.42 613.84 L253.40 618.50 L259.38 622.54 L265.36 626.25 L271.34 629.57 L277.32 632.47 L283.30 634.90 L289.28 636.99 L295.26 638.87 L301.24 640.53 L307.22 641.94 L313.20 643.10 L319.18 644.04 L325.16 644.86 L331.14 645.57 L337.12 646.21 L343.10 646.80 L349.08 647.36 L355.06 647.88 L361.04 648.36 L367.02 648.80 L373.00 649.20 L378.98 649.57 L384.96 649.93 L390.94 650.26 L396.92 650.59 L402.90 650.89 L408.88 651.18 L414.86 651.46 L420.84 651.72 L426.82 651.97 L432.80 652.20 L438.78 652.42 L444.76 652.64 L450.74 652.84 L456.72 653.04 L462.70 653.23 L468.68 653.41 L474.66 653.58 L480.64 653.73 L486.62 653.87 L492.60 654.00" fill="none" stroke="#000" stroke-width="3.3" stroke-linejoin="round" /><path d="M199.58 557.00 L205.56 585.82 L211.54 605.02 L217.52 618.84 L223.50 630.08 L229.48 636.74 L235.46 640.89 L241.44 644.36 L247.42 648.14 L253.40 650.40 L259.38 650.93 L265.36 651.35 L271.34 651.68 L277.32 651.95 L283.30 652.15 L289.28 652.33 L295.26 652.48 L301.24 652.63 L307.22 652.80 L313.20 653.00 L319.18 653.23 L325.16 653.46 L331.14 653.68 L337.12 653.86 L343.10 654.00 L349.08 654.10 L355.06 654.20 L361.04 654.30 L367.02 654.40 L373.00 654.49 L378.98 654.58 L384.96 654.67 L390.94 654.75 L396.92 654.83 L402.90 654.91 L408.88 654.98 L414.86 655.05 L420.84 655.11 L426.82 655.17 L432.80 655.22 L438.78 655.27 L444.76 655.32 L450.74 655.36 L456.72 655.40 L462.70 655.43 L468.68 655.45 L474.66 655.47 L480.64 655.49 L486.62 655.50 L492.60 655.50" fill="none" stroke="#000" stroke-width="3.3" stroke-linejoin="round" stroke-dasharray="9.8 9.3"/><path d="M199.58 577.00 L205.56 610.77 L211.54 631.66 L217.52 640.48 L223.50 646.02 L229.48 648.91 L235.46 650.73 L241.44 652.14 L247.42 653.09 L253.40 653.50 L259.38 653.63 L265.36 653.74 L271.34 653.86 L277.32 653.97 L283.30 654.07 L289.28 654.17 L295.26 654.27 L301.24 654.36 L307.22 654.45 L313.20 654.53 L319.18 654.61 L325.16 654.68 L331.14 654.75 L337.12 654.82 L343.10 654.88 L349.08 654.94 L355.06 654.99 L361.04 655.05 L367.02 655.09 L373.00 655.14 L378.98 655.18 L384.96 655.22 L390.94 655.25 L396.92 655.29 L402.90 655.32 L408.88 655.34 L414.86 655.37 L420.84 655.39 L426.82 655.41 L432.80 655.43 L438.78 655.44 L444.76 655.46 L450.74 655.47 L456.72 655.48 L462.70 655.48 L468.68 655.49 L474.66 655.49 L480.64 655.50 L486.62 655.50 L492.60 655.50" fill="none" stroke="#000" stroke-width="3.3" stroke-linejoin="round" stroke-dasharray="1.4 6.1 9.9 5.5"/><path d="M199.58 606.00 L205.56 635.84 L211.54 647.69 L217.52 651.87 L223.50 652.94 L229.48 653.45 L235.46 653.86 L241.44 654.17 L247.42 654.39 L253.40 654.50 L259.38 654.56 L265.36 654.61 L271.34 654.67 L277.32 654.72 L283.30 654.77 L289.28 654.82 L295.26 654.86 L301.24 654.91 L307.22 654.95 L313.20 654.99 L319.18 655.03 L325.16 655.07 L331.14 655.10 L337.12 655.13 L343.10 655.16 L349.08 655.19 L355.06 655.22 L361.04 655.25 L367.02 655.27 L373.00 655.30 L378.98 655.32 L384.96 655.34 L390.94 655.36 L396.92 655.38 L402.90 655.39 L408.88 655.41 L414.86 655.42 L420.84 655.43 L426.82 655.44 L432.80 655.46 L438.78 655.46 L444.76 655.47 L450.74 655.48 L456.72 655.48 L462.70 655.49 L468.68 655.49 L474.66 655.50 L480.64 655.50 L486.62 655.50 L492.60 655.50" fill="none" stroke="#000" stroke-width="3.3" stroke-linejoin="round" stroke-dasharray="2.6 5.32 1 6.12 1 6.12 1 6.12 1 5.32" stroke-dashoffset="0.7"/><rect x="193.5" y="542.5" width="299.0" height="153.0" fill="none" stroke="#2a2a2a" stroke-width="1"/><text transform="translate(193.00,711.70) scale(0.9,1)" text-anchor="middle" stroke="#000" stroke-width="0.2">0</text><text transform="translate(252.80,711.70) scale(0.9,1)" text-anchor="middle" stroke="#000" stroke-width="0.2">10</text><text transform="translate(312.60,711.70) scale(0.9,1)" text-anchor="middle" stroke="#000" stroke-width="0.2">20</text><text transform="translate(372.40,711.70) scale(0.9,1)" text-anchor="middle" stroke="#000" stroke-width="0.2">30</text><text transform="translate(432.20,711.70) scale(0.9,1)" text-anchor="middle" stroke="#000" stroke-width="0.2">40</text><text transform="translate(492.00,711.70) scale(0.9,1)" text-anchor="middle" stroke="#000" stroke-width="0.2">50</text><text transform="translate(188.50,699.90) scale(0.9,1)" text-anchor="end" stroke="#000" stroke-width="0.2">0.005</text><text transform="translate(188.50,623.40) scale(0.9,1)" text-anchor="end" stroke="#000" stroke-width="0.2">0.01</text><text transform="translate(188.50,546.90) scale(0.9,1)" text-anchor="end" stroke="#000" stroke-width="0.2">0.015</text><text x="343.00" y="537.50" text-anchor="middle" font-size="15.8" stroke="#000" stroke-width="0.1">Spread</text><text x="343.00" y="730.80" text-anchor="middle" font-size="15.8" stroke="#000" stroke-width="0.1">Quarterly Periods</text></g>
<g font-family="Liberation Sans, sans-serif" font-size="13.6" fill="#000" stroke-linejoin="round"><line x1="661.50" y1="695.5" x2="661.50" y2="542.5" stroke="#000" stroke-width="1" stroke-dasharray="1 6.2" opacity="0.75"/><line x1="721.50" y1="695.5" x2="721.50" y2="542.5" stroke="#000" stroke-width="1" stroke-dasharray="1 6.2" opacity="0.75"/><line x1="781.50" y1="695.5" x2="781.50" y2="542.5" stroke="#000" stroke-width="1" stroke-dasharray="1 6.2" opacity="0.75"/><line x1="841.50" y1="695.5" x2="841.50" y2="542.5" stroke="#000" stroke-width="1" stroke-dasharray="1 6.2" opacity="0.75"/><line x1="602.5" y1="680.50" x2="901.5" y2="680.50" stroke="#000" stroke-width="1" stroke-dasharray="1 6.2" opacity="0.75"/><line x1="602.5" y1="603.50" x2="901.5" y2="603.50" stroke="#000" stroke-width="1" stroke-dasharray="1 6.2" opacity="0.75"/><path d="M661.50 695.5v-3M661.50 542.5v3" stroke="#000" stroke-width="1"/><path d="M721.50 695.5v-3M721.50 542.5v3" stroke="#000" stroke-width="1"/><path d="M781.50 695.5v-3M781.50 542.5v3" stroke="#000" stroke-width="1"/><path d="M841.50 695.5v-3M841.50 542.5v3" stroke="#000" stroke-width="1"/><path d="M602.5 680.50h3M901.5 680.50h-3" stroke="#000" stroke-width="1"/><path d="M602.5 603.50h3M901.5 603.50h-3" stroke="#000" stroke-width="1"/><path d="M608.58 589.23 L614.56 594.22 L620.54 598.55 L626.52 602.31 L632.50 605.58 L638.48 608.42 L644.46 610.89 L650.44 613.04 L656.42 614.91 L662.40 616.55 L668.38 617.97 L674.36 619.22 L680.34 620.31 L686.32 621.26 L692.30 622.10 L698.28 622.84 L704.26 623.49 L710.24 624.06 L716.22 624.57 L722.20 625.02 L728.18 625.41 L734.16 625.77 L740.14 626.09 L746.12 626.37 L752.10 626.63 L758.08 626.86 L764.06 627.07 L770.04 627.26 L776.02 627.44 L782.00 627.60 L787.98 627.75 L793.96 627.88 L799.94 628.01 L805.92 628.13 L811.90 628.24 L817.88 628.34 L823.86 628.44 L829.84 628.53 L835.82 628.61 L841.80 628.70 L847.78 628.77 L853.76 628.85 L859.74 628.92 L865.72 628.99 L871.70 629.06 L877.68 629.12 L883.66 629.18 L889.64 629.24 L895.62 629.30 L901.60 629.35" fill="none" stroke="#000" stroke-width="3.3" stroke-linejoin="round" /><path d="M608.58 654.00 L614.56 656.80 L620.54 659.70 L626.52 661.46 L632.50 662.50 L638.48 662.98 L644.46 663.36 L650.44 663.64 L656.42 663.85 L662.40 664.00 L668.38 664.12 L674.36 664.22 L680.34 664.30 L686.32 664.36 L692.30 664.40 L698.28 664.42 L704.26 664.45 L710.24 664.47 L716.22 664.49 L722.20 664.51 L728.18 664.53 L734.16 664.55 L740.14 664.57 L746.12 664.59 L752.10 664.60 L758.08 664.62 L764.06 664.64 L770.04 664.65 L776.02 664.66 L782.00 664.68 L787.98 664.69 L793.96 664.70 L799.94 664.71 L805.92 664.72 L811.90 664.73 L817.88 664.74 L823.86 664.75 L829.84 664.76 L835.82 664.76 L841.80 664.77 L847.78 664.78 L853.76 664.78 L859.74 664.79 L865.72 664.79 L871.70 664.79 L877.68 664.80 L883.66 664.80 L889.64 664.80 L895.62 664.80 L901.60 664.80" fill="none" stroke="#000" stroke-width="3.3" stroke-linejoin="round" stroke-dasharray="9.8 9.3"/><path d="M608.58 669.10 L614.56 672.00 L620.54 672.90 L626.52 673.48 L632.50 673.80 L638.48 673.87 L644.46 673.93 L650.44 673.97 L656.42 673.99 L662.40 674.00 L668.38 674.00 L674.36 674.00 L680.34 674.00 L686.32 674.00 L692.30 674.00 L698.28 674.00 L704.26 674.00 L710.24 674.00 L716.22 674.00 L722.20 674.00 L728.18 674.00 L734.16 674.00 L740.14 674.00 L746.12 674.00 L752.10 674.00 L758.08 674.00 L764.06 674.00 L770.04 674.00 L776.02 674.00 L782.00 674.00 L787.98 674.00 L793.96 674.00 L799.94 674.00 L805.92 674.00 L811.90 674.00 L817.88 674.00 L823.86 674.00 L829.84 674.00 L835.82 674.00 L841.80 674.00 L847.78 674.00 L853.76 674.00 L859.74 674.00 L865.72 674.00 L871.70 674.00 L877.68 674.00 L883.66 674.00 L889.64 674.00 L895.62 674.00 L901.60 674.00" fill="none" stroke="#000" stroke-width="3.3" stroke-linejoin="round" stroke-dasharray="1.4 6.1 9.9 5.5"/><path d="M608.58 679.10 L614.56 679.10 L620.54 679.10 L626.52 679.10 L632.50 679.10 L638.48 679.10 L644.46 679.10 L650.44 679.10 L656.42 679.10 L662.40 679.10 L668.38 679.10 L674.36 679.10 L680.34 679.10 L686.32 679.10 L692.30 679.10 L698.28 679.10 L704.26 679.10 L710.24 679.10 L716.22 679.10 L722.20 679.10 L728.18 679.10 L734.16 679.10 L740.14 679.10 L746.12 679.10 L752.10 679.10 L758.08 679.10 L764.06 679.10 L770.04 679.10 L776.02 679.10 L782.00 679.10 L787.98 679.10 L793.96 679.10 L799.94 679.10 L805.92 679.10 L811.90 679.10 L817.88 679.10 L823.86 679.10 L829.84 679.10 L835.82 679.10 L841.80 679.10 L847.78 679.10 L853.76 679.10 L859.74 679.10 L865.72 679.10 L871.70 679.10 L877.68 679.10 L883.66 679.10 L889.64 679.10 L895.62 679.10 L901.60 679.10" fill="none" stroke="#000" stroke-width="3.3" stroke-linejoin="round" stroke-dasharray="2.6 5.32 1 6.12 1 6.12 1 6.12 1 5.32" stroke-dashoffset="0.7"/><rect x="602.5" y="542.5" width="299.0" height="153.0" fill="none" stroke="#2a2a2a" stroke-width="1"/><text transform="translate(602.00,711.70) scale(0.9,1)" text-anchor="middle" stroke="#000" stroke-width="0.2">0</text><text transform="translate(661.80,711.70) scale(0.9,1)" text-anchor="middle" stroke="#000" stroke-width="0.2">10</text><text transform="translate(721.60,711.70) scale(0.9,1)" text-anchor="middle" stroke="#000" stroke-width="0.2">20</text><text transform="translate(781.40,711.70) scale(0.9,1)" text-anchor="middle" stroke="#000" stroke-width="0.2">30</text><text transform="translate(841.20,711.70) scale(0.9,1)" text-anchor="middle" stroke="#000" stroke-width="0.2">40</text><text transform="translate(901.00,711.70) scale(0.9,1)" text-anchor="middle" stroke="#000" stroke-width="0.2">50</text><text transform="translate(598.30,684.60) scale(0.9,1)" text-anchor="end" stroke="#000" stroke-width="0.2">1.25</text><text transform="translate(598.30,608.10) scale(0.9,1)" text-anchor="end" stroke="#000" stroke-width="0.2">1.3</text><text x="752.00" y="537.50" text-anchor="middle" font-size="15.8" stroke="#000" stroke-width="0.1">Real Exchange Rate</text><text x="752.00" y="730.80" text-anchor="middle" font-size="15.8" stroke="#000" stroke-width="0.1">Quarterly Periods</text></g>
<g font-family="Liberation Sans, sans-serif" font-size="12.8" fill="#000"><rect x="812.5" y="348.5" width="80.0" height="67.0" fill="#fff" stroke="#000" stroke-width="1"/>
<path d="M819.4 358.00H841.5" stroke="#000" stroke-width="3.3" stroke-dasharray="1.2 6.4"/>
<text x="847.5" y="362.60" stroke="#000" stroke-width="0.25">ε=0.1</text>
<path d="M819.4 374.30H841.5" stroke="#000" stroke-width="3.3" stroke-dasharray="1.4 6.1 9.9 5.5"/>
<text x="847.5" y="378.90" stroke="#000" stroke-width="0.25">ε=0.3</text>
<path d="M819.4 390.60H841.5" stroke="#000" stroke-width="3.3" stroke-dasharray="9.8 9.3"/>
<text x="847.5" y="395.20" stroke="#000" stroke-width="0.25">ε=0.5</text>
<path d="M819.4 406.90H841.5" stroke="#000" stroke-width="3.3" />
<text x="847.5" y="411.50" stroke="#000" stroke-width="0.25">ε=0.75</text>
</g>
</svg></body></html>
